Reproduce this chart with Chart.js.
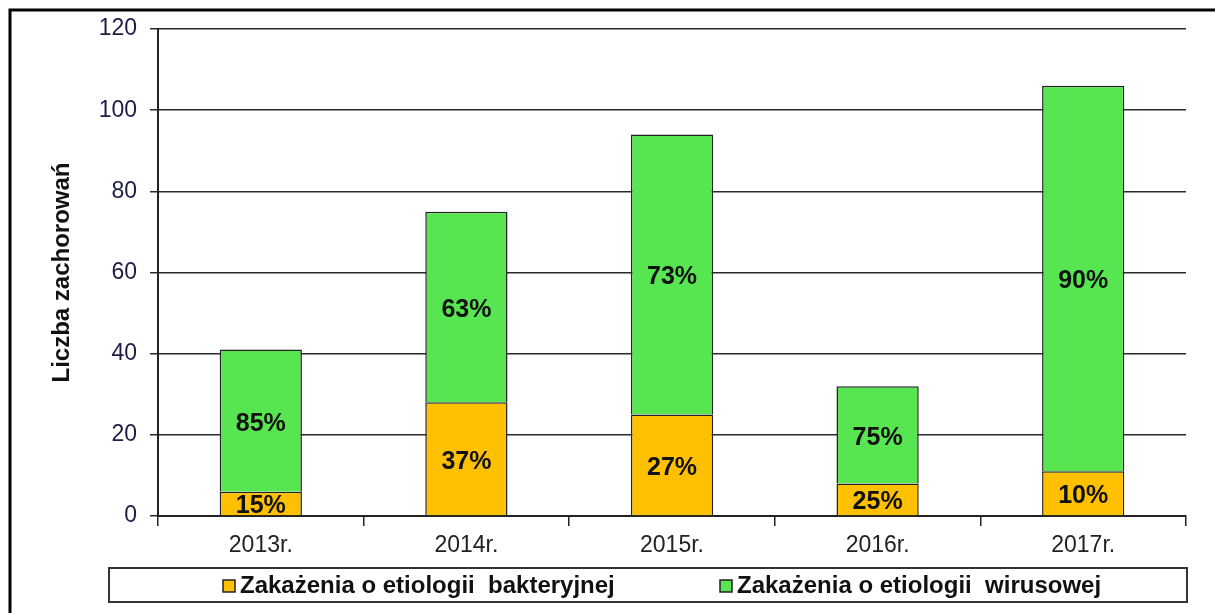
<!DOCTYPE html>
<html>
<head>
<meta charset="utf-8">
<script src="https://cdn.jsdelivr.net/npm/chart.js@4"></script>
<style>
  html, body { margin: 0; padding: 0; background: #fff; }
  #wrap { width: 1215px; height: 613px; position: relative; }
</style>
</head>
<body>
<div id="wrap"><canvas id="chart" width="1215" height="613"></canvas></div>
<script>
// data
const years = ['2013r.', '2014r.', '2015r.', '2016r.', '2017r.'];
const bacterial = [6, 28, 25, 8, 11];
const viral = [35, 47, 69, 24, 95];
const bacterialPct = [15, 37, 27, 25, 10];
const viralPct = [85, 63, 73, 75, 90];
const yTicks = [0, 20, 40, 60, 80, 100, 120];

const FONT = '"Liberation Sans", Arial, sans-serif';
const ORANGE = '#FFC000';
const GREEN = '#57E552';

// outer frame (left + top only, the rest is cut off)
const framePlugin = {
    id: 'frame',
    beforeDraw(chart) {
        const ctx = chart.ctx;
        ctx.save();
        ctx.fillStyle = '#fff';
        ctx.fillRect(0, 0, chart.width, chart.height);
        ctx.strokeStyle = '#000';
        ctx.lineWidth = 3;
        ctx.beginPath();
        ctx.moveTo(10, chart.height);
        ctx.lineTo(10, 10);
        ctx.lineTo(chart.width, 10);
        ctx.stroke();
        ctx.restore();
    }
};

// percentage labels in the middle of each segment
const pctPlugin = {
    id: 'pct',
    afterDatasetsDraw(chart) {
        const ctx = chart.ctx;
        const area = chart.chartArea;
        const pcts = [bacterialPct, viralPct];
        ctx.save();
        ctx.beginPath();
        ctx.rect(area.left, area.top, area.right - area.left, area.bottom - area.top);
        ctx.clip();
        ctx.font = 'bold 25px ' + FONT;
        ctx.fillStyle = '#111';
        ctx.textAlign = 'center';
        ctx.textBaseline = 'middle';
        chart.data.datasets.forEach((ds, di) => {
            chart.getDatasetMeta(di).data.forEach((bar, i) => {
                const y = (bar.y + bar.base) / 2 + 3;
                ctx.fillText(pcts[di][i] + '%', bar.x, y);
            });
        });
        ctx.restore();
    }
};

// boxed legend at the bottom
const legendPlugin = {
    id: 'boxLegend',
    afterDraw(chart) {
        const ctx = chart.ctx;
        ctx.save();
        ctx.strokeStyle = '#333';
        ctx.lineWidth = 2;
        ctx.strokeRect(109, 568, 1078, 34);
        const xs = [223, 720];
        ctx.font = 'bold 24px ' + FONT;
        ctx.textBaseline = 'middle';
        ctx.textAlign = 'left';
        chart.data.datasets.forEach((ds, i) => {
            ctx.fillStyle = ds.backgroundColor;
            ctx.fillRect(xs[i], 580, 12, 12);
            ctx.strokeStyle = '#222';
            ctx.lineWidth = 1.5;
            ctx.strokeRect(xs[i], 580, 12, 12);
            ctx.fillStyle = '#111';
            ctx.fillText(ds.label, xs[i] + 17, 586);
        });
        ctx.restore();
    }
};

new Chart(document.getElementById('chart'), {
    type: 'bar',
    data: {
        labels: years,
        datasets: [
            {
                label: 'Zakażenia o etiologii  bakteryjnej',
                data: bacterial,
                backgroundColor: ORANGE,
                borderColor: '#222',
                borderWidth: 1.5
            },
            {
                label: 'Zakażenia o etiologii  wirusowej',
                data: viral,
                backgroundColor: GREEN,
                borderColor: '#222',
                borderWidth: 1.5
            }
        ]
    },
    options: {
        responsive: false,
        animation: false,
        layout: { padding: { top: 29, right: 29, left: 0, bottom: 0 } },
        datasets: { bar: { barPercentage: 0.4, categoryPercentage: 1 } },
        plugins: {
            legend: { display: false },
            tooltip: { enabled: false }
        },
        scales: {
            x: {
                stacked: true,
                afterFit: s => { s.height = 97; },
                grid: {
                    offset: true,
                    drawOnChartArea: false,
                    drawTicks: true,
                    tickLength: 10,
                    color: '#222',
                    lineWidth: 1.5
                },
                border: { color: '#222', width: 2 },
                ticks: {
                    padding: 6,
                    color: '#222',
                    font: { family: FONT, size: 23 }
                }
            },
            y: {
                stacked: true,
                min: 0,
                max: 120,
                afterFit: s => { s.width = 158; },
                afterBuildTicks: s => { s.ticks = yTicks.map(v => ({ value: v })); },
                grid: {
                    color: '#2a2a2a',
                    lineWidth: 1.5,
                    tickLength: 8
                },
                border: { color: '#222', width: 2 },
                ticks: {
                    padding: 13,
                    color: '#1c1c44',
                    font: { family: FONT, size: 23 }
                },
                title: {
                    display: true,
                    text: 'Liczba zachorowań',
                    color: '#111',
                    font: { family: FONT, size: 24, weight: 'bold' },
                    padding: { top: 48, bottom: 0 }
                }
            }
        }
    },
    plugins: [framePlugin, pctPlugin, legendPlugin]
});
</script>
</body>
</html>
